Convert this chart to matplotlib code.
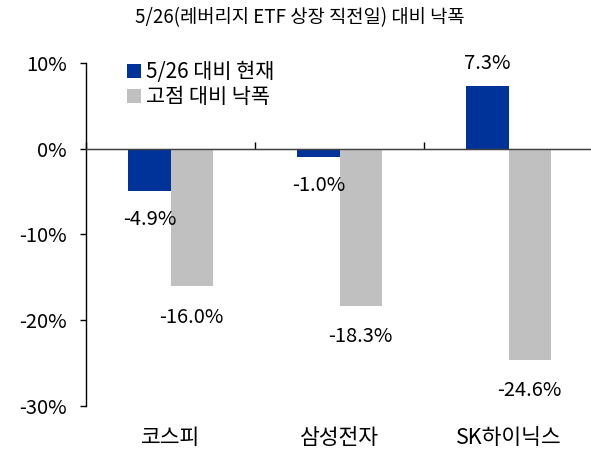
import matplotlib
matplotlib.use('Agg')
import matplotlib.pyplot as plt
import numpy as np

plt.rcParams['font.family'] = ['Noto Sans CJK KR', 'DejaVu Sans']

categories = ['코스피', '삼성전자', 'SK하이닉스']
vs_526 = [-4.9, -1.0, 7.3]
vs_peak = [-16.0, -18.3, -24.6]
series_names = ['5/26 대비 현재', '고점 대비 낙폭']
title = '5/26(레버리지 ETF 상장 직전일) 대비 낙폭'

blue = '#003399'
gray = '#c0c0c0'


def main():
    fig = plt.figure(figsize=(5.91, 4.49), dpi=100)
    ax = fig.add_axes([0.1455, 0.0958, 0.858, 0.7639])

    x = np.arange(len(categories))
    w = 0.25
    ax.bar(x - w / 2, vs_526, w, color=blue, label=series_names[0], zorder=2)
    ax.bar(x + w / 2, vs_peak, w, color=gray, label=series_names[1], zorder=2)

    # value labels
    for xi, v in zip(x - w / 2, vs_526):
        off = 16 if v >= 0 else -20.5
        ax.annotate(f'{v:.1f}%', (xi, v), xytext=(0, off), textcoords='offset points',
                    ha='center', va='center', fontsize=14.5)
    for xi, v in zip(x + w / 2, vs_peak):
        ax.annotate(f'{v:.1f}%', (xi, v), xytext=(0, -22.5), textcoords='offset points',
                    ha='center', va='center', fontsize=14.5)

    ymin, ymax = -30, 10
    ax.set_xlim(-0.5, len(categories) - 0.5)
    ax.set_ylim(ymin, ymax)
    ax.set_yticks([10, 0, -10, -20, -30])
    ax.set_yticklabels(['10%', '0%', '-10%', '-20%', '-30%'])
    ax.tick_params(axis='y', length=4, width=1, pad=10, labelsize=14.5)

    ax.set_xticks(x)
    ax.set_xticklabels(categories)
    ax.tick_params(axis='x', length=0, pad=15, labelsize=15.5)

    for s in ['top', 'right', 'bottom']:
        ax.spines[s].set_visible(False)
    ax.spines['left'].set_linewidth(1)

    # zero line with category separators
    ax.axhline(0, color='#404040', lw=1, zorder=3)
    sec = ax.secondary_xaxis((0 - ymin) / (ymax - ymin))
    sec.set_xticks(np.arange(len(categories) + 1) - 0.5)
    sec.set_xticklabels([])
    sec.tick_params(length=5, width=1, direction='out')
    sec.spines['bottom'].set_visible(False)

    ax.legend(loc='upper left', bbox_to_anchor=(0.061, 1.035), frameon=False,
              handlelength=0.65, handleheight=0.65, handletextpad=0.25,
              labelspacing=0.12, borderpad=0, fontsize=15)

    fig.text(0.508, 0.96, title, ha='center', va='center', fontsize=13.5)

    fig.savefig('out.png', dpi=100)


if __name__ == '__main__':
    main()
